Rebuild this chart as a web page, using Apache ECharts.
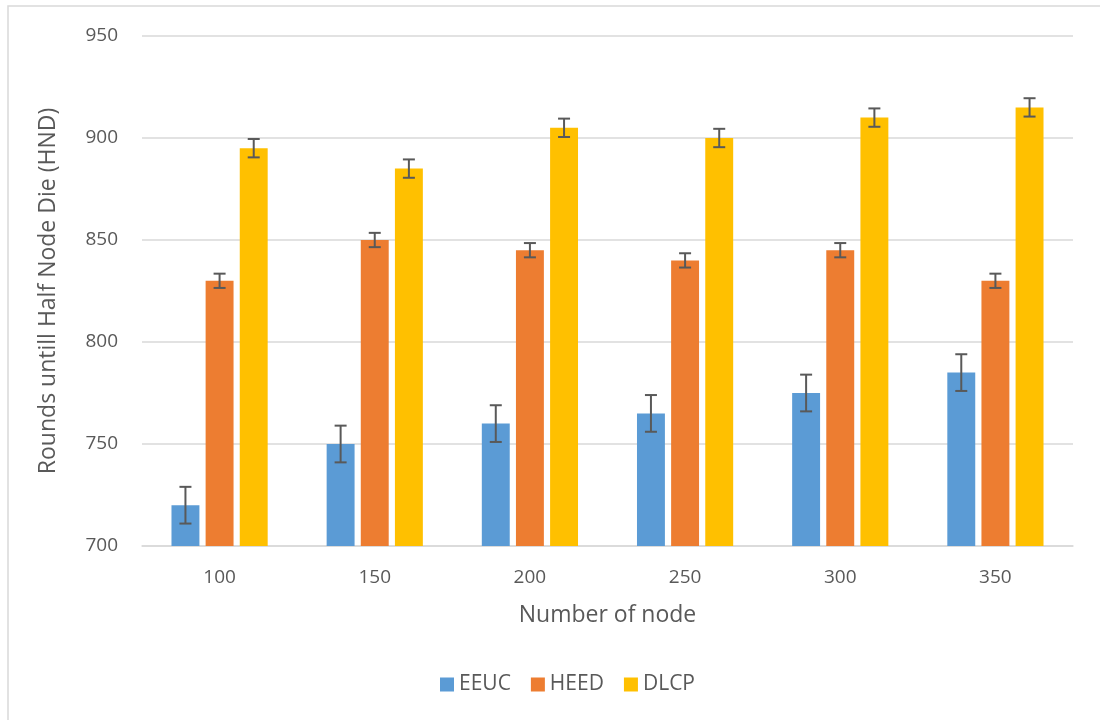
<!DOCTYPE html>
<html>
<head>
<meta charset="utf-8">
<title>HND</title>
<script src="https://cdn.jsdelivr.net/npm/echarts@6/dist/echarts.min.js"></script>
<style>
  html, body { margin: 0; padding: 0; background: #fff; }
  #chart { width: 1100px; height: 720px; }
</style>
</head>
<body>
<div id="chart"></div>
<script>
// data
var nodes = ['100', '150', '200', '250', '300', '350'];
var seriesNames = ['EEUC', 'HEED', 'DLCP'];
var eeuc = [720, 750, 760, 765, 775, 785];
var heed = [830, 850, 845, 840, 845, 830];
var dlcp = [895, 885, 905, 900, 910, 915];
var errEeuc = [9, 9, 9, 9, 9, 9];
var errHeed = [3.5, 3.5, 3.5, 3.5, 3.5, 3.5];
var errDlcp = [4.5, 4.5, 4.5, 4.5, 4.5, 4.5];
var yTicks = [700, 750, 800, 850, 900, 950];

var colors = ['#5b9bd5', '#ed7d31', '#ffc000'];
var textColor = '#595959';
var font = '"Open Sans", "Noto Sans", sans-serif';

var chart = echarts.init(document.getElementById('chart'));

// bar geometry (fractions of one category band)
var barFrac = 0.18;
var gapFrac = 0.04;

function errorSeries(values, errs, idx) {
  var data = values.map(function (v, i) { return [i, v - errs[i], v + errs[i]]; });
  return {
    type: 'custom',
    name: seriesNames[idx] + ' err',
    z: 10,
    silent: true,
    renderItem: function (params, api) {
      var band = api.size([1, 0])[0];
      var offset = (idx - 1) * band * (barFrac + gapFrac);
      var lo = api.coord([api.value(0), api.value(1)]);
      var hi = api.coord([api.value(0), api.value(2)]);
      var x = lo[0] + offset;
      var cap = 6;
      var style = { stroke: '#595959', lineWidth: 2 };
      return {
        type: 'group',
        children: [
          { type: 'line', shape: { x1: x, y1: hi[1], x2: x, y2: lo[1] }, style: style },
          { type: 'line', shape: { x1: x - cap, y1: hi[1], x2: x + cap, y2: hi[1] }, style: style },
          { type: 'line', shape: { x1: x - cap, y1: lo[1], x2: x + cap, y2: lo[1] }, style: style }
        ]
      };
    },
    encode: { x: 0, y: [1, 2] },
    data: data
  };
}

var barData = [eeuc, heed, dlcp];
var errData = [errEeuc, errHeed, errDlcp];

var series = [];
for (var s = 0; s < 3; s++) {
  series.push({
    name: seriesNames[s],
    type: 'bar',
    barWidth: (barFrac * 100) + '%',
    barGap: (gapFrac / barFrac * 100) + '%',
    itemStyle: { color: colors[s] },
    data: barData[s]
  });
}
for (var k = 0; k < 3; k++) {
  series.push(errorSeries(barData[k], errData[k], k));
}

chart.setOption({
  animation: false,
  textStyle: { fontFamily: font },
  graphic: [{
    type: 'rect',
    shape: { x: 8, y: 6, width: 1200, height: 800 },
    style: { fill: 'none', stroke: '#d9d9d9', lineWidth: 1.5 },
    silent: true
  }],
  grid: { left: 142, right: 27, top: 36, bottom: 174 },
  legend: {
    data: seriesNames,
    bottom: 20,
    left: 435,
    icon: 'rect',
    itemWidth: 14,
    itemHeight: 14,
    itemGap: 20,
    textStyle: { color: textColor, fontSize: 21, fontFamily: font }
  },
  xAxis: {
    type: 'category',
    data: nodes,
    name: 'Number of node',
    nameLocation: 'middle',
    nameGap: 58,
    nameTextStyle: { color: textColor, fontSize: 23, fontFamily: font },
    axisLine: { lineStyle: { color: '#d9d9d9', width: 1.5 } },
    axisTick: { show: false },
    axisLabel: { color: textColor, fontSize: 19, margin: 22, fontFamily: font }
  },
  yAxis: {
    type: 'value',
    min: yTicks[0],
    max: yTicks[yTicks.length - 1],
    interval: 50,
    name: 'Rounds untill Half Node Die (HND)',
    nameLocation: 'middle',
    nameGap: 82,
    nameTextStyle: { color: textColor, fontSize: 23, fontFamily: font },
    axisLine: { show: false },
    axisTick: { show: false },
    axisLabel: { color: textColor, fontSize: 19, margin: 24, fontFamily: font },
    splitLine: { lineStyle: { color: '#d9d9d9', width: 1.5 } }
  },
  series: series
});
</script>
</body>
</html>
